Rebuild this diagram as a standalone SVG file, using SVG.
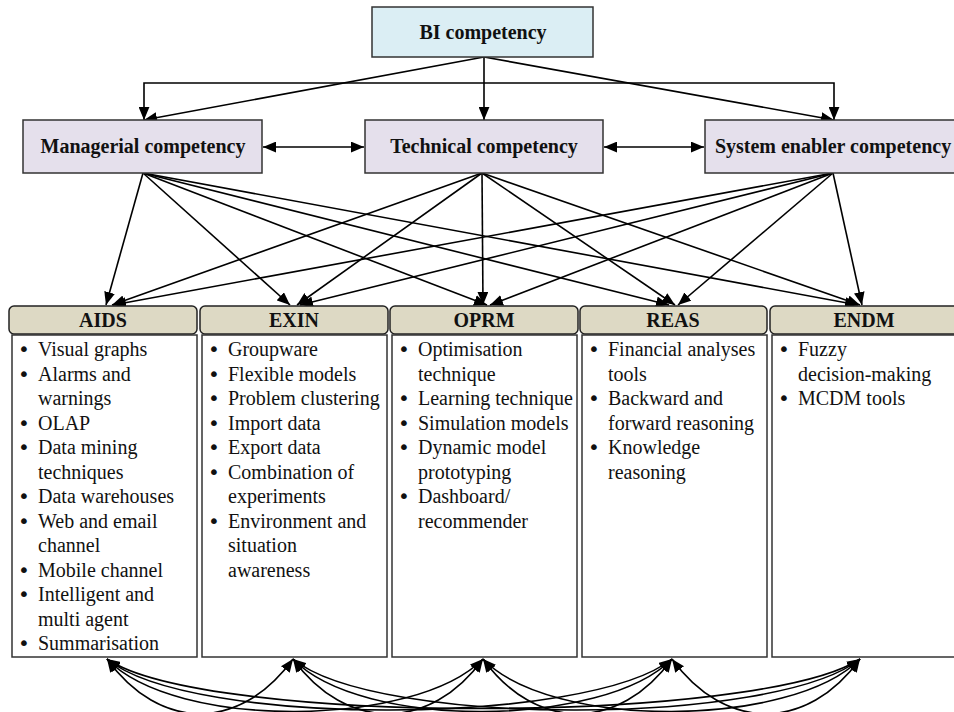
<svg xmlns="http://www.w3.org/2000/svg" width="954" height="712" viewBox="0 0 954 712">
<style>
.bg{fill:#ffffff}
.top{fill:#dbeef4;stroke:#333;stroke-width:1.5}
.mid{fill:#e5e0ec;stroke:#333;stroke-width:1.5}
.hdr{fill:#ddd9c4;stroke:#222;stroke-width:1.5}
.body{fill:#ffffff;stroke:#333;stroke-width:1.5}
.t{font-family:"Liberation Serif","Times New Roman",serif;font-weight:bold;font-size:20px;fill:#111;text-anchor:middle}
.b{font-family:"Liberation Serif","Times New Roman",serif;font-size:20px;fill:#111}
.d{font-family:"DejaVu Sans",sans-serif;font-size:20px}
.c{fill:none;stroke:#000;stroke-width:1.6}
</style>
<defs>
<marker id="ah" viewBox="0 0 12 10" refX="12" refY="5" markerWidth="13" markerHeight="11" markerUnits="userSpaceOnUse" orient="auto-start-reverse"><path d="M0,0 L12,5 L0,10 Z" fill="#000"/></marker>
</defs>
<rect class="bg" x="0" y="0" width="954" height="712"/>

<g id="connectors">
<path class="c" d="M484,57 V120" marker-end="url(#ah)"/>
<path class="c" d="M144,120 V83 H834 V120" marker-start="url(#ah)" marker-end="url(#ah)"/>
<path class="c" d="M484,57 L144,120" marker-end="url(#ah)"/>
<path class="c" d="M484,57 L834,120" marker-end="url(#ah)"/>
<path class="c" d="M263,147 H364" marker-start="url(#ah)" marker-end="url(#ah)"/>
<path class="c" d="M604,147 H704" marker-start="url(#ah)" marker-end="url(#ah)"/>

<path class="c" d="M143,173 L106,305" marker-end="url(#ah)"/>
<path class="c" d="M143,173 L290,305" marker-end="url(#ah)"/>
<path class="c" d="M143,173 L487,305" marker-end="url(#ah)"/>
<path class="c" d="M143,173 L669,305" marker-end="url(#ah)"/>
<path class="c" d="M143,173 L858,305" marker-end="url(#ah)"/>

<path class="c" d="M482,173 L112,305" marker-end="url(#ah)"/>
<path class="c" d="M482,173 L297,305" marker-end="url(#ah)"/>
<path class="c" d="M482,173 L483,305" marker-end="url(#ah)"/>
<path class="c" d="M482,173 L675,305" marker-end="url(#ah)"/>
<path class="c" d="M482,173 L860,305" marker-end="url(#ah)"/>

<path class="c" d="M833,173 L113,305" marker-end="url(#ah)"/>
<path class="c" d="M833,173 L300,305" marker-end="url(#ah)"/>
<path class="c" d="M833,173 L490,305" marker-end="url(#ah)"/>
<path class="c" d="M833,173 L678,305" marker-end="url(#ah)"/>
<path class="c" d="M833,173 L862,305" marker-end="url(#ah)"/>

<path class="c" d="M107,659 C160,732 240,732 293,659" marker-start="url(#ah)" marker-end="url(#ah)"/>
<path class="c" d="M107,659 C175,730 415,728 483,659" marker-start="url(#ah)" marker-end="url(#ah)"/>
<path class="c" d="M107,659 C190,728 589,726 672,659" marker-start="url(#ah)" marker-end="url(#ah)"/>
<path class="c" d="M107,659 C205,726 762,724 860,659" marker-start="url(#ah)" marker-end="url(#ah)"/>
<path class="c" d="M293,659 C346,732 430,732 483,659" marker-start="url(#ah)" marker-end="url(#ah)"/>
<path class="c" d="M293,659 C361,730 604,728 672,659" marker-start="url(#ah)" marker-end="url(#ah)"/>
<path class="c" d="M293,659 C376,728 777,726 860,659" marker-start="url(#ah)" marker-end="url(#ah)"/>
<path class="c" d="M483,659 C536,732 619,732 672,659" marker-start="url(#ah)" marker-end="url(#ah)"/>
<path class="c" d="M483,659 C551,730 792,728 860,659" marker-start="url(#ah)" marker-end="url(#ah)"/>
<path class="c" d="M672,659 C725,732 807,732 860,659" marker-start="url(#ah)" marker-end="url(#ah)"/>
</g>

<g id="bi">
<rect class="top" x="372" y="7" width="221" height="50"/>
<text class="t" x="483" y="39">BI competency</text>
</g>
<g id="managerial">
<rect class="mid" x="23" y="120" width="239" height="53"/>
<text class="t" x="143" y="153">Managerial competency</text>
</g>
<g id="technical">
<rect class="mid" x="365" y="120" width="238" height="53"/>
<text class="t" x="484" y="153">Technical competency</text>
</g>
<g id="system">
<rect class="mid" x="705" y="120" width="260" height="53"/>
<text class="t" x="833" y="153">System enabler competency</text>
</g>

<g id="aids">
<rect class="hdr" x="9" y="306" width="188" height="28" rx="5"/>
<text class="t" x="103" y="327">AIDS</text>
<rect class="body" x="12" y="335" width="185" height="322"/>
<text class="b">
<tspan class="d" x="18" y="356">•</tspan><tspan x="38" y="356">Visual graphs</tspan>
<tspan class="d" x="18" y="380.5">•</tspan><tspan x="38" y="380.5">Alarms and</tspan>
<tspan x="38" y="405">warnings</tspan>
<tspan class="d" x="18" y="429.5">•</tspan><tspan x="38" y="429.5">OLAP</tspan>
<tspan class="d" x="18" y="454">•</tspan><tspan x="38" y="454">Data mining</tspan>
<tspan x="38" y="478.5">techniques</tspan>
<tspan class="d" x="18" y="503">•</tspan><tspan x="38" y="503">Data warehouses</tspan>
<tspan class="d" x="18" y="527.5">•</tspan><tspan x="38" y="527.5">Web and email</tspan>
<tspan x="38" y="552">channel</tspan>
<tspan class="d" x="18" y="576.5">•</tspan><tspan x="38" y="576.5">Mobile channel</tspan>
<tspan class="d" x="18" y="601">•</tspan><tspan x="38" y="601">Intelligent and</tspan>
<tspan x="38" y="625.5">multi agent</tspan>
<tspan class="d" x="18" y="650">•</tspan><tspan x="38" y="650">Summarisation</tspan>
</text>
</g>

<g id="exin">
<rect class="hdr" x="200" y="306" width="188" height="28" rx="5"/>
<text class="t" x="294" y="327">EXIN</text>
<rect class="body" x="202" y="335" width="185" height="322"/>
<text class="b">
<tspan class="d" x="208" y="356">•</tspan><tspan x="228" y="356">Groupware</tspan>
<tspan class="d" x="208" y="380.5">•</tspan><tspan x="228" y="380.5">Flexible models</tspan>
<tspan class="d" x="208" y="405">•</tspan><tspan x="228" y="405">Problem clustering</tspan>
<tspan class="d" x="208" y="429.5">•</tspan><tspan x="228" y="429.5">Import data</tspan>
<tspan class="d" x="208" y="454">•</tspan><tspan x="228" y="454">Export data</tspan>
<tspan class="d" x="208" y="478.5">•</tspan><tspan x="228" y="478.5">Combination of</tspan>
<tspan x="228" y="503">experiments</tspan>
<tspan class="d" x="208" y="527.5">•</tspan><tspan x="228" y="527.5">Environment and</tspan>
<tspan x="228" y="552">situation</tspan>
<tspan x="228" y="576.5">awareness</tspan>
</text>
</g>

<g id="oprm">
<rect class="hdr" x="390" y="306" width="188" height="28" rx="5"/>
<text class="t" x="484" y="327">OPRM</text>
<rect class="body" x="392" y="335" width="185" height="322"/>
<text class="b">
<tspan class="d" x="398" y="356">•</tspan><tspan x="418" y="356">Optimisation</tspan>
<tspan x="418" y="380.5">technique</tspan>
<tspan class="d" x="398" y="405">•</tspan><tspan x="418" y="405">Learning technique</tspan>
<tspan class="d" x="398" y="429.5">•</tspan><tspan x="418" y="429.5">Simulation models</tspan>
<tspan class="d" x="398" y="454">•</tspan><tspan x="418" y="454">Dynamic model</tspan>
<tspan x="418" y="478.5">prototyping</tspan>
<tspan class="d" x="398" y="503">•</tspan><tspan x="418" y="503">Dashboard/</tspan>
<tspan x="418" y="527.5">recommender</tspan>
</text>
</g>

<g id="reas">
<rect class="hdr" x="580" y="306" width="187" height="28" rx="5"/>
<text class="t" x="673" y="327">REAS</text>
<rect class="body" x="582" y="335" width="185" height="322"/>
<text class="b">
<tspan class="d" x="588" y="356">•</tspan><tspan x="608" y="356">Financial analyses</tspan>
<tspan x="608" y="380.5">tools</tspan>
<tspan class="d" x="588" y="405">•</tspan><tspan x="608" y="405">Backward and</tspan>
<tspan x="608" y="429.5">forward reasoning</tspan>
<tspan class="d" x="588" y="454">•</tspan><tspan x="608" y="454">Knowledge</tspan>
<tspan x="608" y="478.5">reasoning</tspan>
</text>
</g>

<g id="endm">
<rect class="hdr" x="770" y="306" width="190" height="28" rx="5"/>
<text class="t" x="864" y="327">ENDM</text>
<rect class="body" x="772" y="335" width="190" height="322"/>
<text class="b">
<tspan class="d" x="778" y="356">•</tspan><tspan x="798" y="356">Fuzzy</tspan>
<tspan x="798" y="380.5">decision-making</tspan>
<tspan class="d" x="778" y="405">•</tspan><tspan x="798" y="405">MCDM tools</tspan>
</text>
</g>
</svg>
